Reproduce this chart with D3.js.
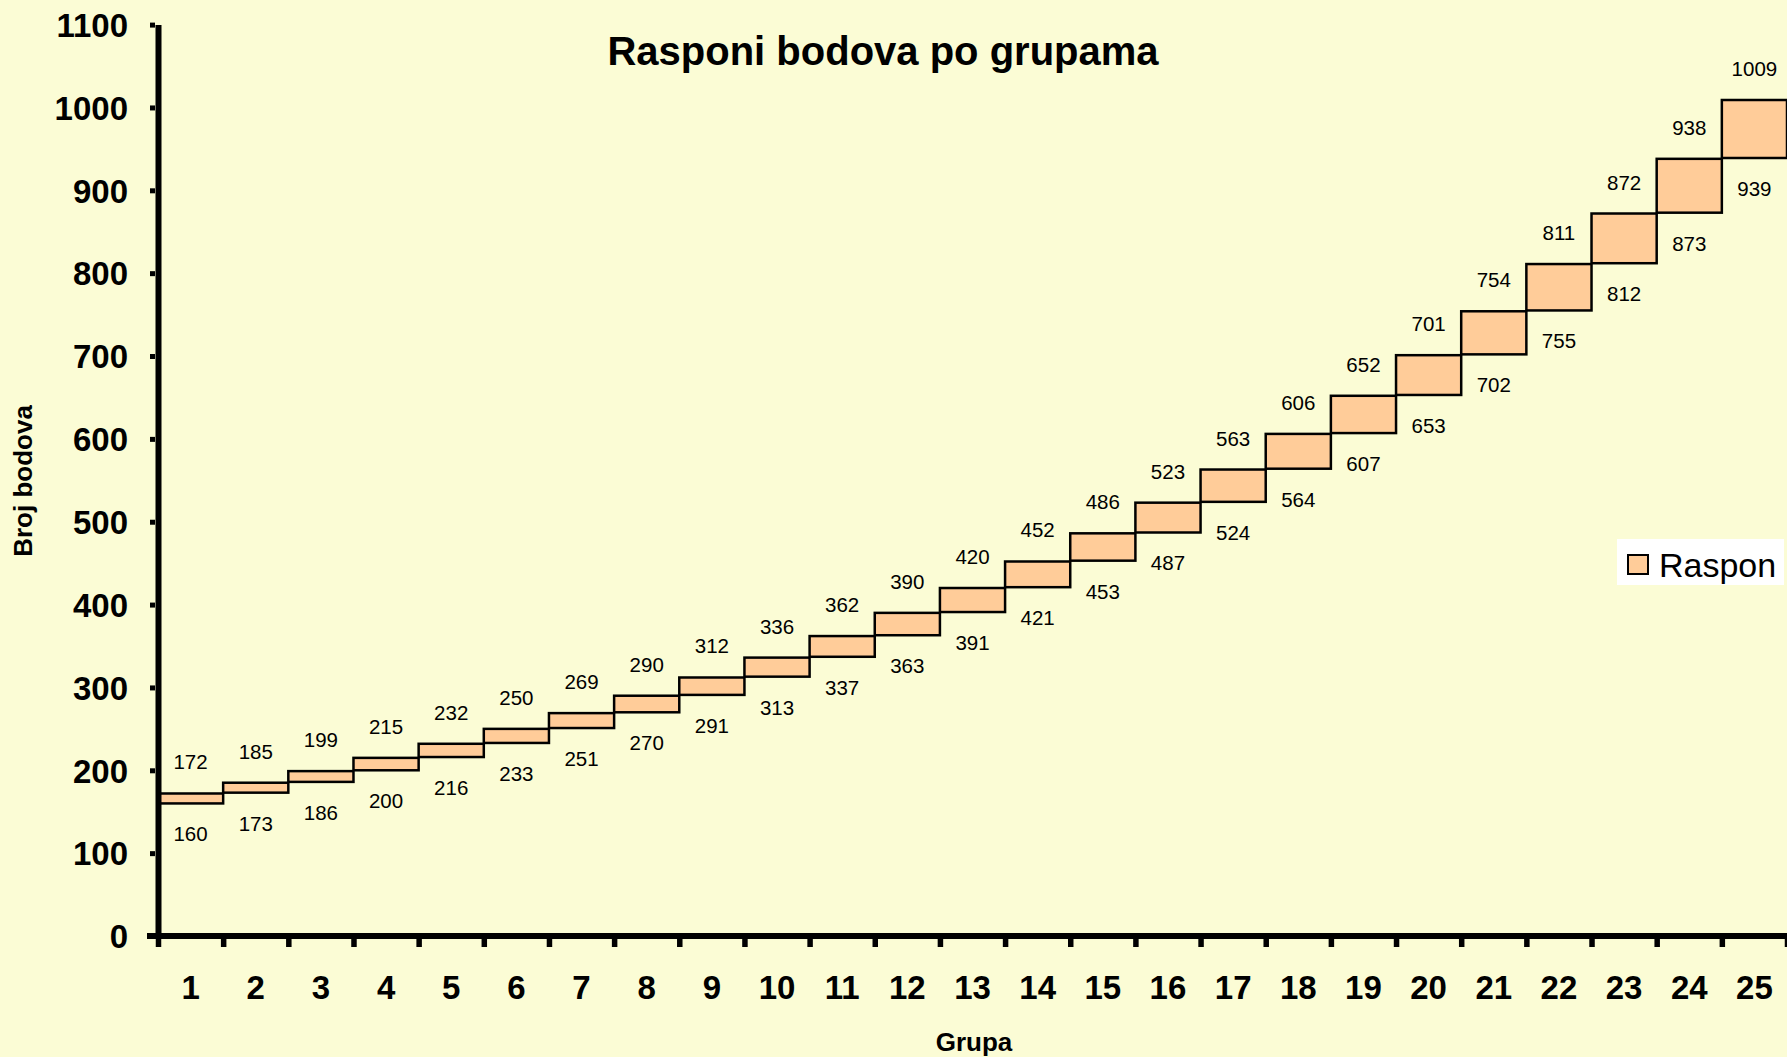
<!DOCTYPE html>
<html>
<head>
<meta charset="utf-8">
<script src="https://cdn.jsdelivr.net/npm/d3@7"></script>
<style>
  html, body { margin: 0; padding: 0; background: #FBFCD5; }
  svg { display: block; font-family: "Liberation Sans", Arial, sans-serif; }
</style>
</head>
<body>
<svg id="chart" width="1787" height="1057"></svg>
<script>
// ---- data ----
const groups = ["1","2","3","4","5","6","7","8","9","10","11","12","13","14","15","16","17","18","19","20","21","22","23","24","25"];
const lowValues  = [160,173,186,200,216,233,251,270,291,313,337,363,391,421,453,487,524,564,607,653,702,755,812,873,939];
const highValues = [172,185,199,215,232,250,269,290,312,336,362,390,420,452,486,523,563,606,652,701,754,811,872,938,1009];
const yTickValues = [0,100,200,300,400,500,600,700,800,900,1000,1100];
const titleText = "Rasponi bodova po grupama";
const xTitle = "Grupa";
const yTitle = "Broj bodova";
const seriesName = "Raspon";

const data = groups.map((g, i) => ({ g, low: lowValues[i], high: highValues[i] }));

const svg = d3.select("#chart");
const W = 1787, H = 1057;
svg.append("rect").attr("width", W).attr("height", H).attr("fill", "#FBFCD5");

const x0 = 158, x1 = 1787, yBottom = 936, yTop = 24.6;
const x = d3.scaleBand().domain(groups).range([x0, x1]).padding(0);
const xEdge = d3.scaleLinear().domain([0, groups.length]).range([x0, x1]);
const y = d3.scaleLinear().domain([0, 1100]).range([yBottom, yTop]);

// bars
svg.append("g").selectAll("rect").data(data).join("rect")
  .attr("x", d => x(d.g))
  .attr("width", x.bandwidth())
  .attr("y", d => y(d.high))
  .attr("height", d => y(d.low) - y(d.high))
  .attr("fill", "#FFCC99")
  .attr("stroke", "#000")
  .attr("stroke-width", 2.5);

// value labels
const lbl = svg.append("g").attr("font-size", "20.5px").attr("fill", "#000").attr("text-anchor", "middle");
lbl.selectAll("text.hi").data(data).join("text").attr("class", "hi")
  .attr("x", d => x(d.g) + x.bandwidth() / 2)
  .attr("y", d => y(d.high) - 24)
  .text(d => d.high);
lbl.selectAll("text.lo").data(data).join("text").attr("class", "lo")
  .attr("x", d => x(d.g) + x.bandwidth() / 2)
  .attr("y", d => y(d.low) + 38)
  .text(d => d.low);

// y axis
const yAxis = svg.append("g").attr("transform", `translate(${x0},0)`)
  .call(d3.axisLeft(y).tickValues(yTickValues).tickSize(8).tickSizeOuter(0).tickPadding(22).tickFormat(d3.format("d")));
yAxis.select(".domain").attr("stroke", "#000").attr("stroke-width", 6);
yAxis.selectAll(".tick line").attr("stroke", "#000").attr("stroke-width", 5).attr("x1", -3);
yAxis.selectAll(".tick text").attr("font-size", "33px").attr("font-weight", "bold")
  .attr("font-family", "'Liberation Sans', Arial, sans-serif").attr("fill", "#000").attr("dy", "0.355em");

// x axis: tick marks at category boundaries
const xTicks = svg.append("g").attr("transform", `translate(0,${yBottom})`)
  .call(d3.axisBottom(xEdge).tickValues(d3.range(0, groups.length + 1)).tickSize(11).tickSizeOuter(0).tickFormat(""));
xTicks.select(".domain").remove();
xTicks.selectAll(".tick line").attr("stroke", "#000").attr("stroke-width", 5.5);

// x axis: domain line and labels at band centers
svg.append("line").attr("x1", x0 - 11).attr("x2", x1).attr("y1", yBottom).attr("y2", yBottom)
  .attr("stroke", "#000").attr("stroke-width", 6);
const xLab = svg.append("g").attr("transform", `translate(0,${yBottom})`)
  .call(d3.axisBottom(x).tickSize(0).tickSizeOuter(0));
xLab.select(".domain").remove();
xLab.selectAll(".tick text").attr("font-size", "33px").attr("font-weight", "bold")
  .attr("font-family", "'Liberation Sans', Arial, sans-serif").attr("fill", "#000")
  .attr("y", 63).attr("dy", "0");

// titles
svg.append("text").attr("x", 883).attr("y", 65).attr("text-anchor", "middle")
  .attr("font-size", "40px").attr("font-weight", "bold").text(titleText);
svg.append("text").attr("x", 974).attr("y", 1051).attr("text-anchor", "middle")
  .attr("font-size", "26px").attr("font-weight", "bold").text(xTitle);
svg.append("text").attr("transform", "translate(32,481) rotate(-90)").attr("text-anchor", "middle")
  .attr("font-size", "26px").attr("font-weight", "bold").text(yTitle);

// legend
const leg = svg.append("g");
leg.append("rect").attr("x", 1617).attr("y", 539).attr("width", 167).attr("height", 46).attr("fill", "#fff");
leg.append("rect").attr("x", 1628).attr("y", 555).attr("width", 20).attr("height", 19)
  .attr("fill", "#FFCC99").attr("stroke", "#000").attr("stroke-width", 2);
leg.append("text").attr("x", 1659).attr("y", 577).attr("font-size", "34px").text(seriesName);
</script>
</body>
</html>
